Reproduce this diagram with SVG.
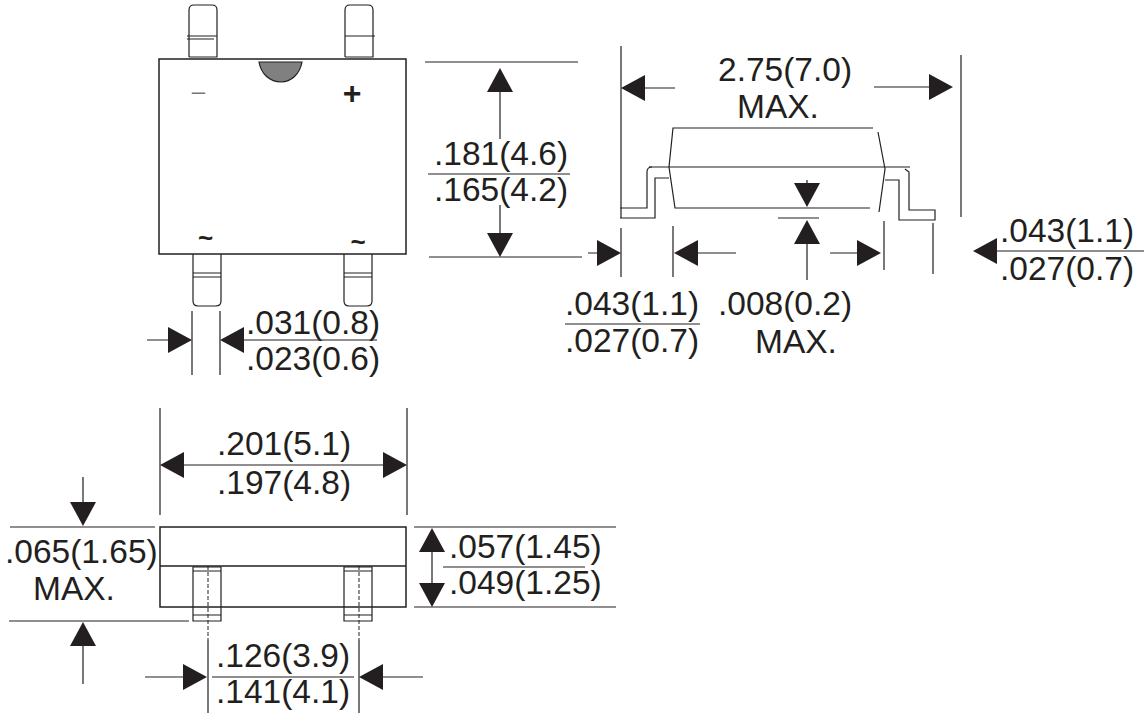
<svg xmlns="http://www.w3.org/2000/svg" width="1144" height="713" viewBox="0 0 1144 713">
<style>
text{font-family:"Liberation Sans",Arial,sans-serif;font-size:33.500px;fill:#231f20}
.s{fill:#231f20;font-size:26px}
path,line,rect{fill:none;stroke:#231f20;stroke-width:1.2}
.b{stroke-width:1.5}
.d{stroke-dasharray:4 2;stroke-width:1}
.a{fill:#231f20;stroke:none}
</style>
<defs>
<path id="ar" class="a" d="M0 0L-24 -13V13Z"/>
</defs>
<g id="top-view">
<rect class="b" x="159" y="59" width="247" height="195"/>
<path d="M189 57V10Q189 5 194 5H212Q217 5 217 10V57H189M187 36H217M187 39H214"/>
<path d="M345 57V10Q345 5 350 5H368Q373 5 373 10V57H345M345 36H375"/>
<path d="M193 254V301Q193 306 198 306H216Q221 306 221 301V254M193 273H221M193 277H221"/>
<path d="M344 254V301Q344 306 349 306H367Q372 306 372 301V254M344 273H372M344 277H372"/>
<path d="M259 62H302C300 74 291 82 281 82C270 82 261 74 259 62Z" style="fill:#808080"/>
<text x="198.500" y="99" text-anchor="middle" style="font-size:24px;fill:#777">–</text>
<text x="352" y="104" text-anchor="middle" style="font-size:32px;font-weight:bold">+</text>
<text class="s" x="205.500" y="247" text-anchor="middle" style="font-weight:bold">~</text>
<text class="s" x="358" y="251" text-anchor="middle" style="font-weight:bold">~</text>
</g>
<g id="side-view">
<path d="M873 128H673L669 167L675 208H870M878 132L885 169L879 212M649 167H910"/>
<path d="M620 208H647V172Q647 167 652 167M620 218H655V178H669"/>
<path d="M885 180H899V220H935V210H909V172L905 169"/>
</g>
<g id="front-view">
<rect x="160" y="527" width="246" height="80" class="b"/>
<line x1="160" y1="566" x2="406" y2="566" class="b"/>
<path d="M193 567H221V621H193ZM193 571H221M193 615H221"/>
<path d="M344 567H372V621H344ZM344 571H372M344 615H372"/>
<path class="d" d="M208 566V640M359 566V640"/>
</g>
<g id="connectors">
<path d="M425 62H578M429 257H582M500 92V139M428 174H570M500 205V233M588 253H597"/>
<use href="#ar" transform="translate(500 68) rotate(-90)"/>
<use href="#ar" transform="translate(500 257) rotate(90)"/>
<use href="#ar" transform="translate(621 253)"/>
<path d="M621 46V218M621 228V277M673 226V277M884 221V270M933 223V274M961 55V217"/>
<path d="M645 88H675M874 87H929M698 253H736M830 253H857M807 180V183M807 243V280M778 218H819"/>
<use href="#ar" transform="translate(621 88) rotate(180)"/>
<use href="#ar" transform="translate(953 87)"/>
<use href="#ar" transform="translate(674 253) rotate(180)"/>
<use href="#ar" transform="translate(881 253)"/>
<use href="#ar" transform="translate(807 207) rotate(90)"/>
<use href="#ar" transform="translate(807 220) rotate(-90)"/>
<path d="M996 251H1144M565 324H700"/>
<use href="#ar" transform="translate(973 251) rotate(180)"/>
<path d="M192 311V375M220 311V375M147 340H168M244 340H377"/>
<use href="#ar" transform="translate(192 340)"/>
<use href="#ar" transform="translate(220 340) rotate(180)"/>
<path d="M160 408V515M407 408V515M183 465H383"/>
<use href="#ar" transform="translate(160 465) rotate(180)"/>
<use href="#ar" transform="translate(407 465)"/>
<path d="M10 527H155M9 621H189M83 477V502M83 646V684"/>
<use href="#ar" transform="translate(83 526) rotate(90)"/>
<use href="#ar" transform="translate(83 622) rotate(-90)"/>
<path d="M414 527H616M414 607H616M432 551V583M443 567H585"/>
<use href="#ar" transform="translate(432 528) rotate(-90)"/>
<use href="#ar" transform="translate(432 607) rotate(90)"/>
<path d="M208 640V713M359 640V713M145 677H184M383 677H423M212 677H354"/>
<use href="#ar" transform="translate(207 677)"/>
<use href="#ar" transform="translate(359 677) rotate(180)"/>
</g>
<g id="labels">
<text x="434" y="165">.181(4.6)</text>
<text x="434" y="201">.165(4.2)</text>
<text x="718" y="81">2.75(7.0)</text>
<text x="737" y="118">MAX.</text>
<text x="1000" y="242">.043(1.1)</text>
<text x="1000" y="280">.027(0.7)</text>
<text x="565" y="315">.043(1.1)</text>
<text x="565" y="352">.027(0.7)</text>
<text x="718" y="315">.008(0.2)</text>
<text x="755" y="353">MAX.</text>
<text x="246" y="334">.031(0.8)</text>
<text x="246" y="370">.023(0.6)</text>
<text x="217" y="455">.201(5.1)</text>
<text x="217" y="494">.197(4.8)</text>
<text x="5" y="563">.065(1.65)</text>
<text x="33" y="600">MAX.</text>
<text x="449" y="558">.057(1.45)</text>
<text x="449" y="594">.049(1.25)</text>
<text x="216" y="667">.126(3.9)</text>
<text x="216" y="703">.141(4.1)</text>
</g>
</svg>
